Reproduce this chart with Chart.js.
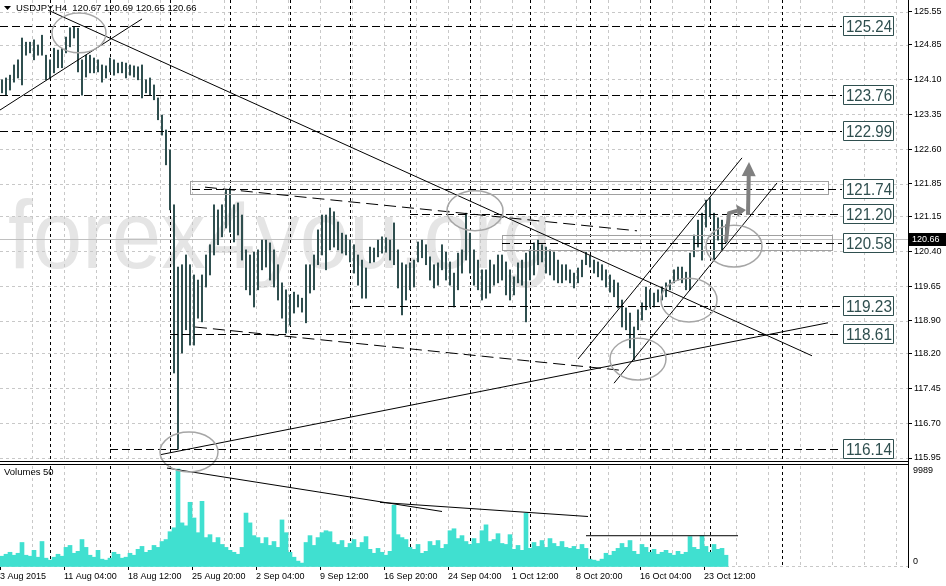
<!DOCTYPE html>
<html>
<head>
<meta charset="utf-8">
<title>USDJPY,H4</title>
<script src="https://cdn.jsdelivr.net/npm/chart.js"></script>
<style>
  html, body { margin: 0; padding: 0; background: #fff; }
  #chart { display: block; }
</style>
</head>
<body>
<canvas id="chart" width="946" height="586"></canvas>
<script>
// one entry = two H4 candles (high / low)
var highs = [124.09,124.13,124.19,124.41,124.52,124.99,124.90,124.90,124.95,124.84,
  125.05,124.62,124.52,124.77,124.73,124.77,125.01,125.21,125.24,125.20,
  124.52,124.62,124.62,124.56,124.52,124.41,124.39,124.56,124.52,124.45,
  124.47,124.45,124.41,124.39,124.37,124.41,124.09,124.13,123.98,123.70,
  123.33,123.01,122.58,121.40,120.06,120.11,120.32,120.11,119.89,119.78,
  119.89,120.32,120.54,121.40,121.29,121.40,121.72,121.76,121.40,121.44,
  121.18,120.43,120.32,120.38,120.43,120.64,120.64,120.58,120.43,120.11,
  119.72,119.57,119.46,119.52,119.46,119.39,120.11,120.11,120.32,120.86,
  121.18,121.18,121.33,121.25,121.03,120.79,120.75,120.64,120.54,120.32,
  120.21,120.04,120.49,120.47,120.64,120.71,120.69,120.64,121.01,120.43,
  120.15,120.11,120.15,120.21,120.60,120.64,120.54,120.28,120.11,120.15,
  120.54,120.38,120.17,119.93,120.36,120.43,121.22,120.79,120.43,120.21,
  120.00,120.00,120.21,120.11,120.32,120.32,120.17,120.00,119.85,120.15,
  120.21,120.36,120.43,120.58,120.64,120.54,120.49,120.43,120.38,120.21,
  120.11,120.11,120.00,119.93,120.04,120.21,120.38,120.30,120.21,120.17,
  120.11,120.00,119.89,119.78,119.72,119.35,119.18,119.07,118.77,119.14,
  119.29,119.63,119.57,119.50,119.57,119.63,119.72,119.78,120.00,120.06,
  120.06,119.95,120.36,120.75,121.07,121.22,121.50,121.55,121.22,121.12,
  121.07,120.97];
var lows = [123.81,123.76,123.87,124.04,124.13,123.98,124.62,124.67,124.52,124.62,
  124.62,124.09,124.13,124.24,124.35,124.35,124.67,124.80,124.99,124.26,
  123.76,124.15,124.24,124.24,124.26,124.04,124.13,124.26,124.19,124.24,
  124.24,124.13,124.19,124.15,124.09,123.70,123.81,123.76,123.66,123.23,
  122.90,122.26,121.29,117.78,116.14,118.21,118.71,118.38,118.38,118.96,
  118.88,119.63,119.89,120.32,120.54,120.71,120.90,120.81,120.60,120.75,
  120.21,119.57,119.46,119.20,119.57,120.00,120.06,119.78,119.63,119.35,
  118.96,118.64,118.81,119.07,119.20,119.09,118.86,119.50,119.57,120.11,
  120.32,120.00,120.43,120.49,120.43,120.36,120.32,120.17,119.93,119.67,
  119.39,119.39,120.15,120.17,120.28,120.36,120.38,120.21,120.11,119.61,
  119.03,119.35,119.57,119.63,120.17,120.26,120.11,119.78,119.61,119.67,
  120.00,119.78,119.67,119.20,119.57,119.93,120.21,119.93,119.67,119.57,
  119.35,119.39,119.50,119.67,119.72,119.78,119.46,119.35,119.46,119.72,
  119.67,118.88,119.78,119.89,120.11,120.17,119.93,119.89,119.78,119.72,
  119.72,119.78,119.72,119.61,119.72,119.85,120.11,120.06,119.93,119.85,
  119.78,119.63,119.52,119.42,119.18,118.77,118.71,118.32,118.06,118.71,
  118.92,119.14,119.20,119.20,119.31,119.35,119.42,119.57,119.72,119.78,
  119.72,119.57,119.57,120.28,120.49,120.21,120.92,121.14,120.21,120.64,
  120.43,120.58];
var volumes = [1100,1300,1500,1200,1400,2500,1200,1100,1700,1000,
  2600,900,700,1000,1300,1100,2000,2200,1400,1600,
  2800,2000,1200,1000,1700,800,700,900,1500,1300,
  900,1000,1400,1200,1800,2100,1500,1700,2200,2000,
  2600,2800,3600,4000,9989,4500,4200,6600,5000,3500,
  6700,3000,3300,2500,3000,2300,2000,1700,1500,1300,
  2000,5500,4500,3200,3000,2400,3000,2200,2600,2000,
  4800,3500,1500,1000,600,400,2500,3200,2200,3000,
  3500,3700,3600,2500,2300,2700,2000,2400,2800,2000,
  2500,3100,1800,1400,1900,1500,1200,1600,6300,3300,
  3000,2800,2000,1800,2300,1400,1600,2600,2200,2700,
  1900,2300,3700,3900,2900,3200,2600,2300,2900,2400,
  3700,4300,2600,2800,3400,2400,2300,3300,1800,2200,
  1700,5500,1900,2500,2100,2700,2000,2900,2400,2100,
  2600,2000,1900,2100,1800,2300,1900,800,700,600,
  800,1400,1200,1600,1900,2400,2000,2700,1600,1300,
  2300,2000,1500,1800,1300,1500,1700,1400,1200,1600,
  1300,1500,3100,2000,1800,3200,2100,1500,2300,1800,
  1900,1200];

var priceTicks = [125.55,124.85,124.10,123.35,122.60,121.85,121.15,120.40,119.65,118.90,118.20,117.45,116.70,115.95];
var timeTicks = [0,32,64,96,128,160,192,224,256,288,320,352];   // H4 bar number
var timeLabels = ["3 Aug 2015","11 Aug 04:00","18 Aug 12:00","25 Aug 20:00","2 Sep 04:00","9 Sep 12:00",
  "16 Sep 20:00","24 Sep 04:00","1 Oct 12:00","8 Oct 20:00","16 Oct 04:00","23 Oct 12:00"];
var weekBars = [25,55,85,115,145,175,205,235,265,295,325,355,391];
var maxVolume = 9989;
var lastPrice = 120.66;
var title = "USDJPY,H4  120.67 120.69 120.65 120.66";

// horizontal levels and the bar where each one starts
var levels = [125.24,123.76,122.99,121.74,121.20,120.58,119.23,118.61,116.14];
var levelStart = [0,0,0,96,205,251,176,85,55];
var levelEnd = 421;

// trend lines: [bar1, price1, bar2, price2]
var trendLines = [[24,125.59,406,118.15],[0,123.44,71,125.40],[80,116.02,414,118.86],
  [289,118.08,371,122.41],[307,117.56,388.5,121.87]];
var dashedLines = [[97.5,118.77,310,117.84],[102.5,121.78,318.5,120.84]];
var volumeLines = [[83.5,10090,221,5660],[190,6590,294,5150],[293,3190,369,3190]];
// zones: [bar1, priceTop, bar2, priceBottom]
var zones = [[95,121.91,414,121.63],[251,120.75,416,120.43]];
// ellipses: [bar, price, half width in bars, half height in price]
var ellipses = [[39.5,125.10,13.5,0.43],[94.5,116.08,14.5,0.43],[237.5,121.27,14,0.43],
  [367,120.51,14,0.45],[344.5,119.35,14,0.47],[319,118.08,14,0.45]];
// arrows: polyline of [bar, price], head at the end
var arrows = [[[374,121.18],[374.5,122.32]],
  [[363,120.60],[364.5,121.22],[368.5,121.27],[373,121.29]]];

var FONT = '"Liberation Sans", Arial, sans-serif';

function crisp(v) { return Math.round(v) + 0.5; }
function seg(ctx, x1, y1, x2, y2) {
  ctx.beginPath(); ctx.moveTo(x1, y1); ctx.lineTo(x2, y2); ctx.stroke();
}
// no extra room for the end labels, panes fill the canvas like the terminal does
function noPad(s) { s.paddingTop = 0; s.paddingBottom = 0; s.paddingLeft = 0; s.paddingRight = 0; }

var overlay = {
  id: 'overlay',
  beforeDatasetsDraw: function (chart) {
    var ctx = chart.ctx, x = chart.scales.x, y = chart.scales.y, yv = chart.scales.yv;
    var L = x.left, R = x.right;
    var pTop = y.top, pBot = y.bottom - 3, vTop = yv.top + 2, vBot = yv.bottom;

    // watermark
    ctx.save();
    ctx.font = '96px ' + FONT;
    var w = ctx.measureText('forex4you.org').width;
    ctx.translate(8, 268);
    ctx.scale(544 / w, 1);
    ctx.fillStyle = '#e5e5e5';
    ctx.fillText('forex4you.org', 0, 0);
    ctx.restore();

    ctx.save();
    ctx.lineWidth = 1;
    ctx.setLineDash([3, 3]);
    ctx.strokeStyle = '#c8c8c8';
    priceTicks.forEach(function (p) {
      var py = crisp(y.getPixelForValue(p));
      seg(ctx, L, py, R, py);
    });
    for (var b = 16; b < x.max; b += 16) {
      var gx = crisp(x.getPixelForValue(b));
      seg(ctx, gx, pTop, gx, pBot);
      seg(ctx, gx, vTop, gx, vBot);
    }
    var zy = yv.getPixelForValue(0) - 0.5;
    seg(ctx, L, zy, R, zy);

    ctx.strokeStyle = '#000';
    weekBars.forEach(function (b) {
      var wx = crisp(x.getPixelForValue(b));
      seg(ctx, wx, pTop, wx, pBot);
      seg(ctx, wx, vTop, wx, vBot);
    });

    // bid line
    ctx.setLineDash([]);
    ctx.strokeStyle = '#c0c0c0';
    var by = crisp(y.getPixelForValue(lastPrice));
    seg(ctx, L, by, R, by);
    ctx.restore();
  },

  afterDatasetsDraw: function (chart) {
    var ctx = chart.ctx, x = chart.scales.x, y = chart.scales.y, yv = chart.scales.yv;
    var L = x.left, R = x.right;
    function X(b) { return x.getPixelForValue(b); }
    function Y(p) { return y.getPixelForValue(p); }
    function V(v) { return yv.getPixelForValue(v); }

    ctx.save();
    ctx.lineWidth = 1;

    // zones
    ctx.strokeStyle = '#a0a0a0';
    zones.forEach(function (z) {
      var x1 = crisp(X(z[0])), x2 = crisp(X(z[2])), y1 = crisp(Y(z[1])), y2 = crisp(Y(z[3]));
      ctx.strokeRect(x1, y1, x2 - x1, y2 - y1);
    });

    // level lines
    ctx.strokeStyle = '#000';
    ctx.setLineDash([8, 4]);
    levels.forEach(function (p, i) {
      var ly = crisp(Y(p));
      seg(ctx, X(levelStart[i]), ly, X(levelEnd), ly);
    });

    // dashed trend lines
    ctx.setLineDash([12, 6]);
    dashedLines.forEach(function (t) { seg(ctx, X(t[0]), Y(t[1]), X(t[2]), Y(t[3])); });

    // solid trend lines
    ctx.setLineDash([]);
    trendLines.forEach(function (t) { seg(ctx, X(t[0]), Y(t[1]), X(t[2]), Y(t[3])); });
    volumeLines.forEach(function (t) { seg(ctx, X(t[0]), V(t[1]), X(t[2]), V(t[3])); });

    // ellipses
    ctx.strokeStyle = '#a6a6a6';
    ctx.lineWidth = 1.5;
    ellipses.forEach(function (e) {
      var cx = X(e[0]), cy = Y(e[1]);
      var rx = X(e[0] + e[2]) - cx, ry = Y(e[1] - e[3]) - cy;
      ctx.beginPath();
      ctx.ellipse(cx, cy, rx, ry, 0, 0, Math.PI * 2);
      ctx.stroke();
    });

    // arrows
    ctx.strokeStyle = '#808080';
    ctx.fillStyle = '#808080';
    ctx.lineJoin = 'round';
    arrows.forEach(function (a, k) {
      var pts = a.map(function (q) { return [X(q[0]), Y(q[1])]; });
      var n = pts.length, p0 = pts[n - 2], p1 = pts[n - 1];
      var ang = Math.atan2(p1[1] - p0[1], p1[0] - p0[0]);
      var hl = k === 0 ? 14 : 9, hw = k === 0 ? 7 : 6;
      var bx = p1[0] - hl * Math.cos(ang), bY = p1[1] - hl * Math.sin(ang);
      ctx.lineWidth = 4;
      ctx.beginPath();
      ctx.moveTo(pts[0][0], pts[0][1]);
      for (var i = 1; i < n - 1; i++) ctx.lineTo(pts[i][0], pts[i][1]);
      ctx.lineTo(bx, bY);
      ctx.stroke();
      ctx.beginPath();
      ctx.moveTo(p1[0], p1[1]);
      ctx.lineTo(bx + hw * Math.sin(ang), bY - hw * Math.cos(ang));
      ctx.lineTo(bx - hw * Math.sin(ang), bY + hw * Math.cos(ang));
      ctx.closePath();
      ctx.fill();
    });

    // separator between the two panes
    ctx.lineWidth = 1;
    ctx.strokeStyle = '#000';
    seg(ctx, L, y.bottom - 2.5, R, y.bottom - 2.5);
    seg(ctx, L, y.bottom + 0.5, R, y.bottom + 0.5);

    // level labels
    ctx.font = '17px ' + FONT;
    ctx.textBaseline = 'middle';
    levels.forEach(function (p) {
      var cy = Math.round(Y(p));
      ctx.fillStyle = '#fff';
      ctx.fillRect(843.5, cy - 9.5, 50, 19);
      ctx.strokeStyle = '#2f4f4f';
      ctx.strokeRect(843.5, cy - 9.5, 50, 19);
      var txt = p.toFixed(2), tw = ctx.measureText(txt).width;
      ctx.save();
      ctx.translate(846, cy + 1);
      ctx.scale(Math.min(1, 46 / tw), 1);
      ctx.fillStyle = '#2f4f4f';
      ctx.fillText(txt, 0, 0);
      ctx.restore();
    });

    // title and pane name
    ctx.fillStyle = '#000';
    ctx.beginPath();
    ctx.moveTo(4, 6); ctx.lineTo(11, 6); ctx.lineTo(7.5, 10);
    ctx.closePath();
    ctx.fill();
    ctx.font = '9.5px ' + FONT;
    ctx.fillText(title, 16, 8);
    ctx.fillText('Volumes 50', 4, yv.top + 8);

    // last price tag
    var ty = Math.round(Y(lastPrice));
    ctx.fillRect(R + 1, ty - 6, 946 - R - 1, 13);
    ctx.fillStyle = '#fff';
    ctx.font = '9px ' + FONT;
    ctx.fillText(lastPrice.toFixed(2), R + 4, ty + 0.5);

    // volume scale labels
    ctx.fillStyle = '#000';
    ctx.fillText(String(maxVolume), R + 5, V(maxVolume) + 1);
    ctx.fillText('0', R + 5, V(0) - 5);
    ctx.restore();
  }
};

var priceData = highs.map(function (h, i) { return { x: 2 * i + 1, y: [lows[i], h] }; });
var volumeData = volumes.map(function (v, i) { return { x: 2 * i + 1, y: v }; });

var axisFont = { family: FONT, size: 9 };

new Chart(document.getElementById('chart'), {
  type: 'bar',
  data: {
    datasets: [{
      data: priceData,
      yAxisID: 'y',
      backgroundColor: '#2f4f4f',
      barThickness: 1.4,
      grouped: false
    }, {
      data: volumeData,
      yAxisID: 'yv',
      backgroundColor: '#40e0d0',
      barThickness: 4,
      grouped: false
    }]
  },
  options: {
    responsive: false,
    animation: false,
    devicePixelRatio: 1,
    layout: { padding: 0 },
    plugins: { legend: { display: false }, tooltip: { enabled: false } },
    scales: {
      x: {
        type: 'linear', min: 0, max: 454, offset: false,
        grid: { drawOnChartArea: false, tickLength: 3, color: '#000', offset: false },
        border: { display: false },
        ticks: {
          align: 'start', autoSkip: false, maxRotation: 0, padding: 1,
          color: '#000', font: axisFont,
          callback: function (v, i) { return timeLabels[i]; }
        },
        afterBuildTicks: function (s) { s.ticks = timeTicks.map(function (v) { return { value: v }; }); },
        afterFit: function (s) { s.height = 19; noPad(s); }
      },
      y: {
        type: 'linear', position: 'right', stack: 'panes', stackWeight: 464,
        min: 115.821, max: 125.808,
        grid: { drawOnChartArea: false, tickLength: 4, color: '#000' },
        border: { color: '#000' },
        ticks: {
          padding: 2, color: '#000', font: axisFont,
          callback: function (v) { return v.toFixed(2); }
        },
        afterBuildTicks: function (s) { s.ticks = priceTicks.map(function (v) { return { value: v }; }); },
        afterFit: function (s) { s.width = 38; noPad(s); }
      },
      yv: {
        type: 'linear', position: 'right', stack: 'panes', stackWeight: 103,
        min: 0, max: 10504,
        grid: { drawOnChartArea: false, drawTicks: false },
        border: { color: '#000' },
        ticks: { display: false },
        afterFit: function (s) { s.width = 38; noPad(s); }
      }
    }
  },
  plugins: [overlay]
});
</script>
</body>
</html>
